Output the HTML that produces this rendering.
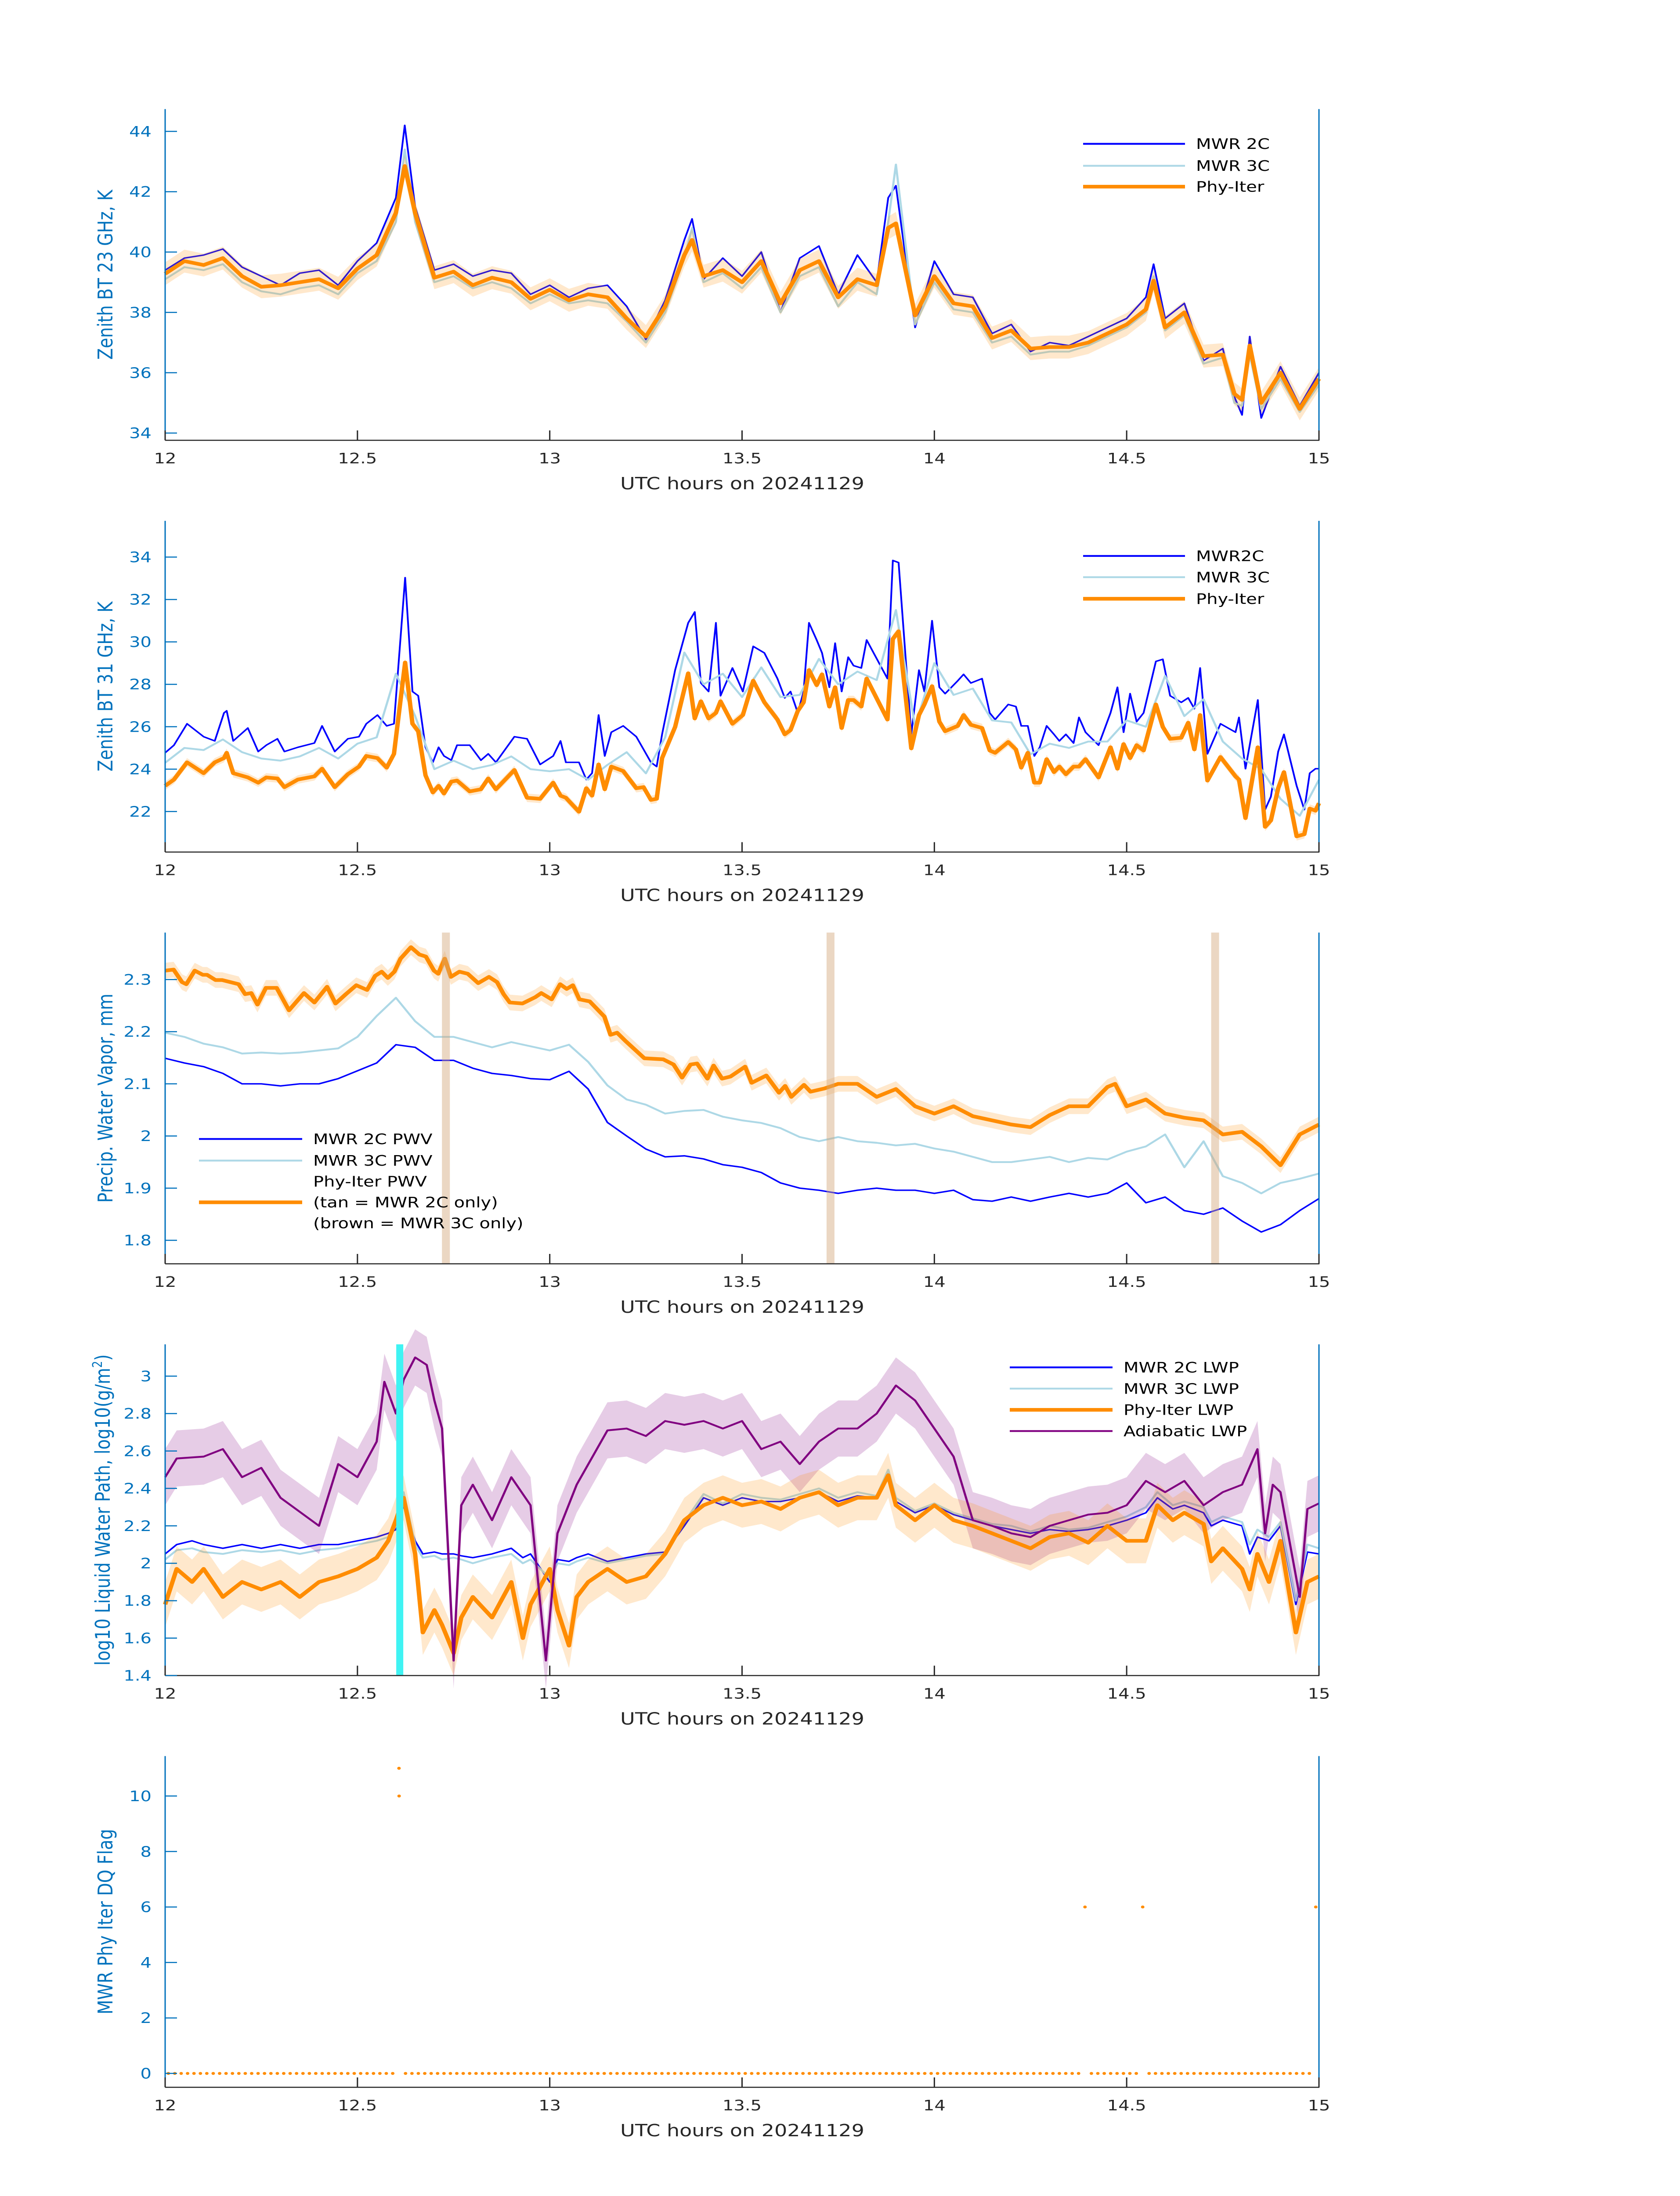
<!DOCTYPE html>
<html><head><meta charset="utf-8">
<style>
html,body{margin:0;padding:0;background:#fff;width:100%;height:100%;overflow:hidden;}
svg{display:block;width:100vw;height:100vh;font-family:"DejaVu Sans","Liberation Sans",sans-serif;}
</style></head>
<body>
<svg id="chart" viewBox="0 0 3825 6000" preserveAspectRatio="none" xmlns="http://www.w3.org/2000/svg"></svg>
<script>
// ---------- DATA ----------
const xTickVals=[12,12.5,13,13.5,14,14.5,15];
const xTickLabels=["12","12.5","13","13.5","14","14.5","15"];
// Panel 1: 23 GHz BT
const t1=[12,12.05,12.1,12.15,12.2,12.25,12.3,12.35,12.4,12.45,12.5,12.55,12.6,12.623,12.65,12.7,12.75,12.8,12.85,12.9,12.95,13,13.05,13.1,13.15,13.2,13.25,13.3,13.35,13.37,13.4,13.45,13.5,13.55,13.6,13.65,13.7,13.75,13.8,13.85,13.88,13.9,13.95,14,14.05,14.1,14.15,14.2,14.25,14.3,14.35,14.4,14.45,14.5,14.55,14.57,14.6,14.65,14.7,14.75,14.78,14.8,14.82,14.85,14.9,14.95,15];
const p1Phy=[39.28,39.7,39.57,39.8,39.2,38.85,38.9,39.0,39.1,38.8,39.45,39.9,41.3,42.85,41.3,39.15,39.35,38.9,39.15,39.0,38.45,38.75,38.4,38.6,38.5,37.8,37.2,38.2,39.9,40.4,39.2,39.4,39.0,39.7,38.3,39.4,39.7,38.5,39.1,38.9,40.8,40.95,37.9,39.2,38.3,38.2,37.15,37.4,36.8,36.85,36.85,37.0,37.3,37.6,38.1,39.05,37.5,38.0,36.55,36.6,35.3,35.1,36.9,35.0,36.0,34.8,35.8];
const p1Mwr2c=[39.4,39.8,39.9,40.1,39.5,39.2,38.9,39.3,39.4,38.9,39.7,40.3,41.8,44.2,41.5,39.4,39.6,39.2,39.4,39.3,38.6,38.9,38.5,38.8,38.9,38.2,37.1,38.4,40.4,41.1,39.1,39.8,39.2,40.0,38.0,39.8,40.2,38.6,39.9,39.0,41.8,42.2,37.5,39.7,38.6,38.5,37.3,37.6,36.7,37.0,36.9,37.2,37.5,37.8,38.5,39.6,37.8,38.3,36.4,36.8,35.2,34.6,37.2,34.5,36.2,34.9,36.0];
const p1Mwr3c=[39.1,39.5,39.4,39.6,39.0,38.7,38.6,38.8,38.9,38.6,39.3,39.7,41.0,43.4,41.0,39.0,39.2,38.8,39.0,38.8,38.3,38.6,38.3,38.4,38.3,37.7,37.0,38.0,39.8,40.8,39.0,39.3,38.8,39.5,38.0,39.2,39.5,38.2,39.0,38.6,41.0,42.9,37.6,39.0,38.1,38.0,37.0,37.2,36.6,36.7,36.7,36.9,37.2,37.5,38.0,39.2,37.4,37.9,36.3,36.5,35.0,34.9,36.6,34.8,35.8,34.7,35.6];
// Panel 2: 31 GHz BT
const t2=[12.000,12.023,12.057,12.100,12.129,12.153,12.160,12.177,12.215,12.242,12.263,12.292,12.310,12.345,12.388,12.408,12.441,12.475,12.504,12.523,12.552,12.576,12.595,12.624,12.643,12.658,12.677,12.696,12.711,12.725,12.744,12.759,12.792,12.821,12.840,12.860,12.908,12.941,12.975,13.009,13.028,13.042,13.076,13.095,13.110,13.127,13.143,13.160,13.191,13.225,13.244,13.263,13.278,13.292,13.326,13.360,13.377,13.393,13.413,13.432,13.444,13.475,13.502,
13.529,13.558,13.592,13.611,13.626,13.645,13.660,13.674,13.694,13.708,13.727,13.742,13.759,13.776,13.790,13.810,13.824,13.878,13.892,13.907,13.940,13.960,13.974,13.994,14.013,14.028,14.061,14.076,14.095,14.124,14.144,14.158,14.192,14.212,14.226,14.243,14.260,14.274,14.292,14.311,14.325,14.342,14.362,14.376,14.393,14.427,14.458,14.476,14.492,14.509,14.526,14.544,14.576,14.594,14.613,14.642,14.660,14.676,14.691,14.710,14.744,14.783,14.792,14.809,14.841,14.860,14.875,14.894,14.909,14.942,14.962,14.976,14.991,15.0];
const p2Phy=[23.21,23.51,24.32,23.81,24.32,24.52,24.77,23.81,23.61,23.36,23.61,23.56,23.15,23.51,23.66,24.02,23.15,23.76,24.12,24.62,24.52,24.07,24.72,29.03,26.14,25.79,23.71,22.90,23.21,22.85,23.41,23.46,22.95,23.05,23.56,23.05,23.96,22.65,22.60,23.36,22.75,22.65,21.99,23.10,22.75,24.22,23.05,24.12,23.91,23.10,23.15,22.55,22.60,24.52,25.99,28.52,26.39,27.20,26.39,26.65,27.20,26.14,26.55,
28.17,27.15,26.34,25.64,25.84,26.75,27.15,28.67,27.96,28.47,26.95,27.86,25.94,27.26,27.26,26.95,28.27,26.34,30.14,30.50,24.98,26.55,27.05,27.91,26.24,25.79,26.04,26.55,26.09,25.94,24.88,24.77,25.28,24.93,24.07,24.77,23.36,23.36,24.47,23.86,24.12,23.76,24.12,24.12,24.47,23.61,25.03,24.02,25.18,24.52,25.13,24.88,27.05,25.99,25.43,25.48,26.19,24.93,26.55,23.46,24.57,23.66,23.51,21.69,25.03,21.28,21.58,23.10,23.86,20.83,20.93,22.14,22.04,22.39];
const p2Mwr2c=[24.77,25.13,26.14,25.53,25.33,26.65,26.75,25.33,25.94,24.83,25.13,25.43,24.83,25.03,25.23,26.04,24.83,25.43,25.53,26.14,26.55,26.04,26.14,33.03,27.66,27.46,25.03,24.32,25.03,24.62,24.42,25.13,25.13,24.42,24.72,24.32,25.53,25.43,24.22,24.62,25.33,24.32,24.32,23.51,23.81,26.55,24.62,25.74,26.04,25.53,24.93,24.32,24.12,25.64,28.67,30.90,31.41,28.06,27.66,30.90,27.46,28.77,27.66,
29.79,29.48,28.27,27.36,27.66,26.65,27.66,30.90,30.09,29.48,27.86,29.94,27.66,29.28,28.88,28.77,30.09,28.27,33.84,33.74,25.64,28.67,27.66,31.00,27.86,27.56,28.17,28.47,28.06,28.27,26.65,26.34,27.05,26.95,26.04,26.04,24.62,25.03,26.04,25.64,25.33,25.64,25.23,26.44,25.74,25.13,26.65,27.86,25.74,27.56,26.24,26.65,29.08,29.18,27.46,27.15,27.36,26.85,28.77,24.72,26.14,25.74,26.44,24.02,27.26,22.09,22.70,24.83,25.64,23.21,22.09,23.81,24.02,24.02];
const p2Mwr3c=[24.3,25.0,24.9,25.4,24.8,24.5,24.4,24.6,25.0,24.5,25.2,25.5,28.5,26.5,24.0,24.4,24.0,24.2,24.6,24.0,23.9,24.0,23.5,24.2,24.8,23.8,25.5,29.5,28.0,28.5,27.4,28.8,27.4,27.5,29.2,28.0,28.6,28.2,31.5,26.0,29.0,27.5,27.8,26.3,26.2,24.7,25.2,25.0,25.3,25.3,26.3,26.0,28.4,26.5,27.3,25.3,24.5,24.0,22.6,21.8,23.5];
// Panel 3: PWV
const t3Phy=[12.000,12.022,12.044,12.055,12.077,12.098,12.109,12.131,12.148,12.191,12.208,12.224,12.240,12.262,12.290,12.322,12.361,12.388,12.421,12.443,12.470,12.497,12.525,12.546,12.563,12.579,12.596,12.612,12.639,12.661,12.678,12.699,12.710,12.727,12.743,12.765,12.787,12.814,12.842,12.863,12.880,12.896,12.929,12.962,12.978,13.005,13.027,13.044,13.060,13.077,13.104,13.142,13.158,13.175,13.197,13.246,13.295,13.322,13.344,13.366,13.383,13.410,13.426,13.448,13.470,13.508,13.525,13.563,13.596,13.612,13.628,13.661,13.678,13.714,13.75,13.8,13.85,13.9,13.95,14.0,14.05,14.1,14.15,14.2,14.25,14.3,14.35,14.4,14.45,14.47,14.5,14.55,14.6,14.65,14.7,14.75,14.8,14.85,14.9,14.95,15.0];
const p3Phy=[2.317,2.319,2.295,2.291,2.317,2.309,2.309,2.299,2.299,2.291,2.272,2.274,2.252,2.284,2.284,2.241,2.274,2.256,2.286,2.254,2.272,2.289,2.280,2.307,2.315,2.303,2.315,2.340,2.362,2.348,2.344,2.317,2.311,2.340,2.305,2.315,2.311,2.293,2.305,2.295,2.272,2.256,2.254,2.266,2.274,2.262,2.291,2.282,2.289,2.262,2.258,2.229,2.194,2.198,2.182,2.149,2.147,2.137,2.112,2.137,2.139,2.110,2.135,2.110,2.114,2.133,2.102,2.116,2.083,2.096,2.075,2.098,2.085,2.091,2.10,2.10,2.075,2.09,2.057,2.043,2.057,2.038,2.03,2.022,2.017,2.04,2.057,2.057,2.094,2.10,2.057,2.07,2.043,2.035,2.03,2.003,2.008,1.98,1.944,2.003,2.022];
const p3Mwr2c=[2.149,2.14,2.133,2.12,2.10,2.10,2.096,2.10,2.10,2.11,2.125,2.14,2.175,2.17,2.145,2.145,2.13,2.12,2.116,2.11,2.108,2.124,2.09,2.026,2.0,1.975,1.96,1.962,1.956,1.945,1.94,1.93,1.91,1.90,1.896,1.89,1.896,1.90,1.896,1.896,1.89,1.896,1.878,1.875,1.883,1.875,1.883,1.89,1.883,1.89,1.91,1.872,1.883,1.857,1.85,1.862,1.837,1.816,1.83,1.857,1.88];
const p3Mwr3c=[2.198,2.19,2.177,2.17,2.158,2.16,2.158,2.16,2.164,2.168,2.19,2.23,2.265,2.22,2.19,2.19,2.18,2.17,2.18,2.172,2.164,2.175,2.142,2.097,2.07,2.06,2.043,2.048,2.05,2.037,2.03,2.025,2.015,1.998,1.99,1.998,1.99,1.987,1.982,1.985,1.976,1.97,1.96,1.95,1.95,1.955,1.96,1.95,1.958,1.955,1.97,1.98,2.003,1.94,1.99,1.923,1.91,1.89,1.91,1.918,1.928];
const p3BarTimes=[12.73,13.73,14.73];
// Panel 4: LWP
const t4Adi=[12.0,12.03,12.1,12.15,12.2,12.25,12.3,12.4,12.45,12.5,12.55,12.57,12.6,12.62,12.65,12.68,12.7,12.72,12.75,12.77,12.8,12.85,12.9,12.95,12.99,13.02,13.07,13.15,13.2,13.25,13.3,13.35,13.4,13.45,13.5,13.55,13.6,13.65,13.7,13.75,13.8,13.85,13.9,13.95,14.0,14.05,14.1,14.15,14.2,14.25,14.3,14.35,14.4,14.45,14.5,14.55,14.6,14.65,14.7,14.75,14.8,14.84,14.86,14.88,14.9,14.95,14.97,15.0];
const p4Adi=[2.46,2.56,2.57,2.61,2.46,2.51,2.35,2.20,2.53,2.46,2.65,2.97,2.80,2.98,3.10,3.06,2.87,2.72,1.48,2.31,2.42,2.23,2.46,2.31,1.48,2.16,2.42,2.71,2.72,2.68,2.76,2.74,2.76,2.72,2.76,2.61,2.65,2.53,2.65,2.72,2.72,2.80,2.95,2.87,2.72,2.57,2.23,2.20,2.16,2.14,2.20,2.23,2.26,2.27,2.31,2.44,2.38,2.44,2.31,2.38,2.42,2.61,2.16,2.42,2.38,1.82,2.29,2.32];
const t4=[12.0,12.03,12.07,12.1,12.15,12.2,12.25,12.3,12.35,12.4,12.45,12.5,12.55,12.58,12.6,12.62,12.65,12.67,12.7,12.72,12.75,12.77,12.8,12.85,12.9,12.93,12.95,13.0,13.02,13.05,13.07,13.1,13.15,13.2,13.25,13.3,13.35,13.4,13.45,13.5,13.55,13.6,13.65,13.7,13.75,13.8,13.85,13.88,13.9,13.95,14.0,14.05,14.1,14.15,14.2,14.25,14.3,14.35,14.4,14.45,14.5,14.55,14.58,14.62,14.65,14.7,14.72,14.75,14.8,14.82,14.84,14.87,14.9,14.94,14.97,15.0];
const p4Phy=[1.78,1.97,1.90,1.97,1.82,1.90,1.86,1.90,1.82,1.90,1.93,1.97,2.03,2.12,2.23,2.35,2.05,1.63,1.75,1.67,1.52,1.71,1.82,1.71,1.90,1.60,1.78,1.97,1.75,1.56,1.82,1.90,1.97,1.90,1.93,2.05,2.23,2.31,2.35,2.31,2.33,2.29,2.35,2.38,2.31,2.35,2.35,2.47,2.31,2.23,2.31,2.23,2.20,2.16,2.12,2.08,2.14,2.16,2.11,2.20,2.12,2.12,2.31,2.23,2.27,2.21,2.01,2.08,1.97,1.86,2.05,1.90,2.12,1.63,1.90,1.93];
const p4Mwr2c=[2.05,2.10,2.12,2.10,2.08,2.10,2.08,2.10,2.08,2.10,2.10,2.12,2.14,2.16,2.18,2.31,2.12,2.05,2.06,2.05,2.05,2.04,2.03,2.05,2.08,2.03,2.05,1.90,2.02,2.01,2.03,2.05,2.01,2.03,2.05,2.06,2.20,2.35,2.31,2.35,2.33,2.33,2.35,2.38,2.33,2.36,2.35,2.48,2.33,2.27,2.31,2.26,2.23,2.20,2.18,2.16,2.18,2.17,2.18,2.20,2.23,2.27,2.35,2.29,2.31,2.27,2.20,2.23,2.20,2.05,2.14,2.12,2.20,1.78,2.06,2.05];
const p4Mwr3c=[2.02,2.07,2.08,2.06,2.05,2.07,2.06,2.07,2.05,2.07,2.08,2.10,2.12,2.14,2.20,2.38,2.10,2.03,2.04,2.02,2.03,2.02,2.00,2.03,2.05,2.00,2.02,1.92,2.00,1.99,2.01,2.03,2.00,2.02,2.04,2.05,2.22,2.37,2.32,2.37,2.35,2.34,2.37,2.40,2.35,2.38,2.36,2.50,2.35,2.28,2.32,2.27,2.24,2.21,2.20,2.17,2.20,2.18,2.19,2.22,2.25,2.30,2.38,2.31,2.33,2.30,2.22,2.25,2.22,2.10,2.18,2.14,2.22,1.80,2.10,2.08];
const p4MarkTime=12.61;
// Panel 5: DQ flag (one value per minute, 180 values)
const dqFlags=[
0,0,0,0,0,0,0,0,0,0, 0,0,0,0,0,0,0,0,0,0, 0,0,0,0,0,0,0,0,0,0, 0,0,0,0,0,0,10,0,0,0,
0,0,0,0,0,0,0,0,0,0, 0,0,0,0,0,0,0,0,0,0, 0,0,0,0,0,0,0,0,0,0, 0,0,0,0,0,0,0,0,0,0,
0,0,0,0,0,0,0,0,0,0, 0,0,0,0,0,0,0,0,0,0, 0,0,0,0,0,0,0,0,0,0, 0,0,0,0,0,0,0,0,0,0,
0,0,0,0,0,0,0,0,0,0, 0,0,0,0,0,0,0,0,0,0, 0,0,0,6,0,0,0,0,0,0, 0,0,6,0,0,0,0,0,0,0,
0,0,0,0,0,0,0,0,0,0, 0,0,0,0,0,0,0,0,0,6];
const dqExtraT=[12.608];
const dqExtraV=[11];

// ---------- LAYOUT ----------
const NS="http://www.w3.org/2000/svg";
const svg=document.getElementById('chart');
const X0=376,X1=3003,H=905;
const AX="#0072BD",DK="#262626";
function mk(tag,attrs,parent){const e=document.createElementNS(NS,tag);for(const k in attrs)e.setAttribute(k,attrs[k]);(parent||svg).appendChild(e);return e;}
function xs(t){return X0+(t-12)/3*(X1-X0);}
const panels=[
 {top:298,ymin:33.76,ymax:44.74,ticks:[34,36,38,40,42,44],fmt:v=>String(v),label:"Zenith BT 23 GHz, K",name:"bt23"},
 {top:1423,ymin:20.09,ymax:35.71,ticks:[22,24,26,28,30,32,34],fmt:v=>String(v),label:"Zenith BT 31 GHz, K",name:"bt31"},
 {top:2548,ymin:1.755,ymax:2.39,ticks:[1.8,1.9,2,2.1,2.2,2.3],fmt:v=>String(v),label:"Precip. Water Vapor, mm",name:"pwv"},
 {top:3673,ymin:1.4,ymax:3.17,ticks:[1.4,1.6,1.8,2,2.2,2.4,2.6,2.8,3],fmt:v=>String(v),label:null,name:"lwp"},
 {top:4798,ymin:-0.5,ymax:11.44,ticks:[0,2,4,6,8,10],fmt:v=>String(v),label:"MWR Phy Iter DQ Flag",name:"dq"}
];
panels.forEach(p=>{p.bot=p.top+H;p.ys=v=>p.top+(p.ymax-v)/(p.ymax-p.ymin)*H;});

function path(ts,vs,p){let d="";for(let i=0;i<ts.length;i++){d+=(i?"L":"M")+xs(ts[i]).toFixed(1)+","+p.ys(vs[i]).toFixed(1);}return d;}
function gridTimes(n){const a=[];for(let i=0;i<n;i++)a.push(12+i*0.05);return a;}
function band(ts,vs,hw,p){let d="";for(let i=0;i<ts.length;i++)d+=(i?"L":"M")+xs(ts[i]).toFixed(1)+","+p.ys(vs[i]+hw).toFixed(1);for(let i=ts.length-1;i>=0;i--)d+="L"+xs(ts[i]).toFixed(1)+","+p.ys(vs[i]-hw).toFixed(1);return d+"Z";}

function drawAxes(p,idx){
  const g=mk('g',{});
  
  
  const l=mk('line',{x1:X0,y1:p.top,x2:X0,y2:p.bot,stroke:AX,'stroke-width':3},g);
  
  
  const r=mk('line',{x1:X1,y1:p.top,x2:X1,y2:p.bot,stroke:AX,'stroke-width':3},g);
  
  
  const b=mk('line',{x1:X0,y1:p.bot,x2:X1+1,y2:p.bot,stroke:DK,'stroke-width':3},g);
  
  
  p.ticks.forEach(v=>{
    const y=p.ys(v);
    const tk=mk('line',{x1:X0,y1:y,x2:X0+27,y2:y,stroke:AX,'stroke-width':3},g);
    
    
    const tx=mk('text',{x:345,y:y+14,'text-anchor':'end','font-size':40,fill:AX},g);
    
    
    tx.textContent=p.fmt(v);
  });
  xTickVals.forEach((v,i)=>{
    const x=xs(v);
    const tk=mk('line',{x1:x,y1:p.bot,x2:x,y2:p.bot-27,stroke:DK,'stroke-width':3},g);
    
    
    const tx=mk('text',{x:x,y:p.bot+63,'text-anchor':'middle','font-size':40,fill:DK},g);
    
    
    tx.textContent=xTickLabels[i];
  });
  const xl=mk('text',{x:1690,y:p.bot+134,'text-anchor':'middle','font-size':46,fill:DK},g);
  
  
  xl.textContent="UTC hours on 20241129";
  const cy=(p.top+p.bot)/2;
  const yl=mk('text',{x:0,y:0,'text-anchor':'middle','font-size':46,fill:AX,transform:`translate(${idx===3?250:256},${cy}) rotate(-90)`},g);
  
  
  if(p.label){yl.textContent=p.label;}
  else{
    const a=mk('tspan',{},yl);a.textContent="log10 Liquid Water Path, log10(g/m";
    const s=mk('tspan',{'font-size':30,dy:-18},yl);s.textContent="2";
    const c=mk('tspan',{dy:18},yl);c.textContent=")";
  }
}

function drawLine(ts,vs,p,color,w,name){
  const e=mk('path',{d:path(ts,vs,p),fill:'none',stroke:color,'stroke-width':w,'stroke-linejoin':'round'});
  
  
}
function drawBand(ts,vs,hw,p,color,op,name){
  const e=mk('path',{d:band(ts,vs,hw,p),fill:color,'fill-opacity':op,stroke:'none'});
  
  
}
function legendItem(x0,x1,y,color,w,label,name){
  if(color){
    const l=mk('line',{x1:x0,y1:y,x2:x1,y2:y,stroke:color,'stroke-width':w});
    
    
  }
  const t=mk('text',{x:x1+25,y:y+14,'font-size':40,fill:'#000'});
  
  
  t.textContent=label;
}

const BLUE="#0000ff",LB="#add8e6",OR="#ff8c00",PU="#800080";
const grid=gridTimes(61);

// Panel 1
let P=panels[0];
drawLine(t1,p1Mwr2c,P,BLUE,4,'bt23-mwr2c-line');
drawLine(t1,p1Mwr3c,P,LB,5,'bt23-mwr3c-line');
drawBand(t1,p1Phy,0.38,P,OR,0.2,'bt23-phy-uncertainty');
drawLine(t1,p1Phy,P,OR,10,'bt23-phy-line');
legendItem(2466,2698,P.top+95,BLUE,5,"MWR 2C",'legend-entry-mwr2c');
legendItem(2466,2698,P.top+155,LB,5,"MWR 3C",'legend-entry-mwr3c');
legendItem(2466,2698,P.top+212,OR,10,"Phy-Iter",'legend-entry-phy');
drawAxes(P,0);

// Panel 2
P=panels[1];
drawLine(t2,p2Mwr2c,P,BLUE,4,'bt31-mwr2c-line');
drawLine(grid,p2Mwr3c,P,LB,5,'bt31-mwr3c-line');
drawBand(t2,p2Phy,0.2,P,OR,0.2,'bt31-phy-uncertainty');
drawLine(t2,p2Phy,P,OR,10,'bt31-phy-line');
legendItem(2466,2698,P.top+96,BLUE,5,"MWR2C",'legend-entry-mwr2c');
legendItem(2466,2698,P.top+154,LB,5,"MWR 3C",'legend-entry-mwr3c');
legendItem(2466,2698,P.top+213,OR,10,"Phy-Iter",'legend-entry-phy');
drawAxes(P,1);

// Panel 3
P=panels[2];
drawLine(grid,p3Mwr2c,P,BLUE,4,'pwv-mwr2c-line');
drawLine(grid,p3Mwr3c,P,LB,5,'pwv-mwr3c-line');
drawBand(t3Phy,p3Phy,0.015,P,OR,0.2,'pwv-phy-uncertainty');
drawLine(t3Phy,p3Phy,P,OR,10,'pwv-phy-line');
p3BarTimes.forEach(t=>{
  const r=mk('rect',{x:xs(t)-9,y:P.top,width:18,height:H,fill:'#d2a77a','fill-opacity':0.45});
  
  
});
legendItem(453,688,3112,BLUE,5,"MWR 2C PWV",'legend-entry-mwr2c-pwv');
legendItem(453,688,3171,LB,5,"MWR 3C PWV",'legend-entry-mwr3c-pwv');
legendItem(453,688,3228,null,0,"Phy-Iter PWV",'legend-entry-phy-pwv');
legendItem(453,688,3285,OR,10,"(tan = MWR 2C only)",'legend-entry-tan-note');
legendItem(453,688,3342,null,0,"(brown = MWR 3C only)",'legend-entry-brown-note');
drawAxes(P,2);

// Panel 4
P=panels[3];
drawLine(t4,p4Mwr2c,P,BLUE,4,'lwp-mwr2c-line');
drawLine(t4,p4Mwr3c,P,LB,5,'lwp-mwr3c-line');
drawBand(t4Adi,p4Adi,0.15,P,PU,0.2,'lwp-adiabatic-uncertainty');
drawBand(t4,p4Phy,0.12,P,OR,0.2,'lwp-phy-uncertainty');
drawLine(t4,p4Phy,P,OR,10,'lwp-phy-line');
drawLine(t4Adi,p4Adi,P,PU,5,'lwp-adiabatic-line');
{
  const c=mk('rect',{x:xs(p4MarkTime)-8,y:P.top,width:16,height:H,fill:'#3ff3f3'});
  
  
}
legendItem(2299,2533,3736,BLUE,5,"MWR 2C LWP",'legend-entry-mwr2c-lwp');
legendItem(2299,2533,3794,LB,5,"MWR 3C LWP",'legend-entry-mwr3c-lwp');
legendItem(2299,2533,3852,OR,10,"Phy-Iter LWP",'legend-entry-phy-lwp');
legendItem(2299,2533,3910,PU,5,"Adiabatic LWP",'legend-entry-adiabatic-lwp');
drawAxes(P,3);

// Panel 5
P=panels[4];
dqFlags.forEach((v,i)=>{
  const t=12+(i+0.5)/60;
  const d=mk('circle',{cx:xs(t),cy:P.ys(v),r:4,fill:OR});
  
  
});
dqExtraT.forEach((t,i)=>{
  const d=mk('circle',{cx:xs(t),cy:P.ys(dqExtraV[i]),r:4,fill:OR});
  
  
});
drawAxes(P,4);
</script>
</body></html>
